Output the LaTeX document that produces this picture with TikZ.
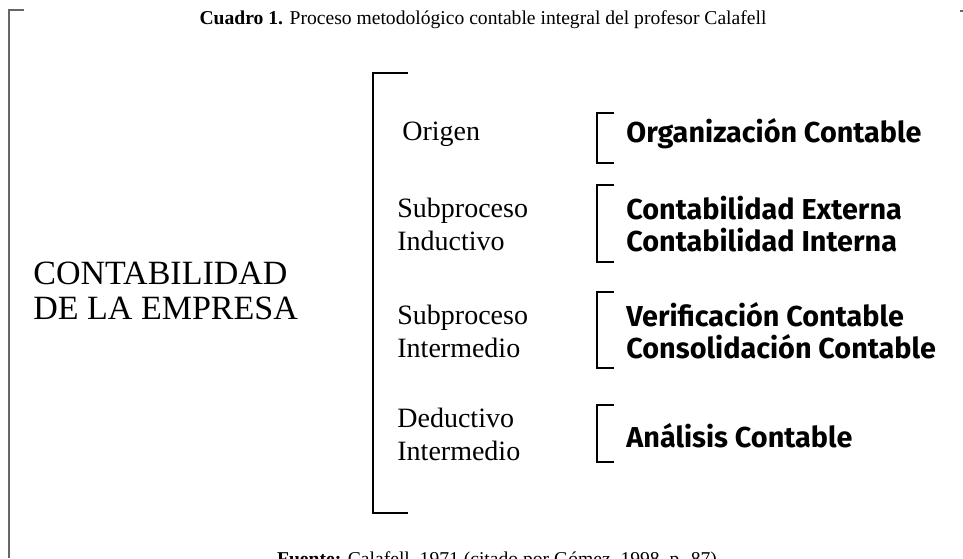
\documentclass[tikz,border=0pt]{standalone}
\usepackage{fontspec}
\setmainfont{Liberation Serif}
\newfontfamily\accfont{Fira Sans}
\usetikzlibrary{positioning}

\begin{document}
\begin{tikzpicture}[x=0.5pt,y=-0.5pt,
  every node/.style={inner sep=0pt},
  titletext/.style={font=\fontsize{9.8}{12}\selectfont},
  bigtext/.style={anchor=west,align=left,font=\fontsize{17}{17.5}\selectfont},
  steptext/.style={anchor=west,align=left,font=\fontsize{14}{16.5}\selectfont},
  acctext/.style={anchor=west,align=left,font=\accfont\bfseries\fontsize{14.4}{16}\selectfont},
  bracket/.style={line width=1pt}]
\useasboundingbox (0,0) rectangle (963,558);

% frame
\draw[gray!80!black,line width=0.6pt] (24,10) -- (9,10) -- (9,558);
\draw[gray!80!black,line width=0.6pt] (960,11) -- (963,11);

% title and source
\node[titletext] (title) at (483,20) {\textbf{Cuadro 1.} Proceso metodológico contable integral del profesor Calafell};
\node[titletext,anchor=base] (source) at (497,565) {\textbf{Fuente:} Calafell, 1971 (citado por Gómez, 1998, p. 87)};

% left block
\node[bigtext] (empresa) at (33,291) {CONTABILIDAD\\DE LA EMPRESA};

% big bracket
\draw[bracket] (408,73) -- (373,73) -- (373,513) -- (408,513);

% steps
\node[steptext] (origen) at (402,134) {Origen};
\node[steptext] (inductivo) at (397,224) {Subproceso\\Inductivo};
\node[steptext] (intermedio) at (397,331) {Subproceso\\Intermedio};
\node[steptext] (deductivo) at (397,434) {Deductivo\\Intermedio};

% small brackets
\draw[bracket] (614,113) -- (597,113) -- (597,163) -- (614,163);
\draw[bracket] (614,185) -- (597,185) -- (597,262) -- (614,262);
\draw[bracket] (614,292) -- (597,292) -- (597,368) -- (614,368);
\draw[bracket] (614,405) -- (597,405) -- (597,462) -- (614,462);

% accounting parts
\node[acctext] (organizacion) at (626,134) {Organización Contable};
\node[acctext] (externa) at (626,224) {Contabilidad Externa\\Contabilidad Interna};
\node[acctext] (verificacion) at (626,331) {Verificación Contable\\Consolidación Contable};
\node[acctext] (analisis) at (626,436) {Análisis Contable};

\end{tikzpicture}
\end{document}
